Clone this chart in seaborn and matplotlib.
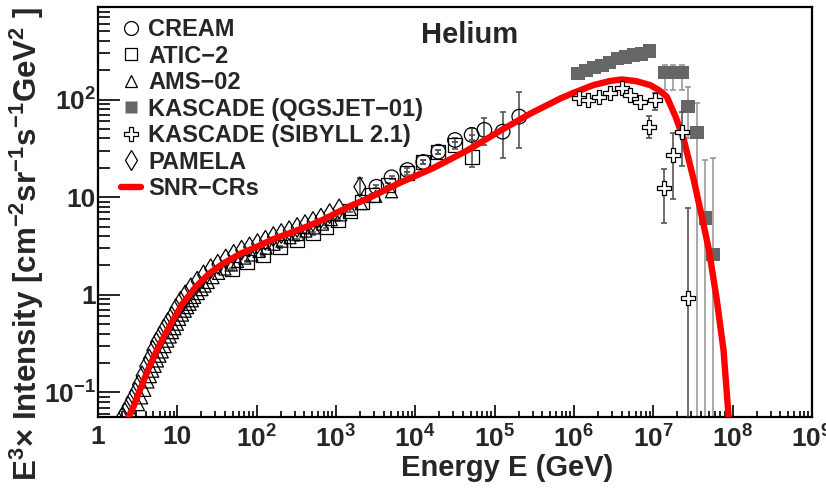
import numpy as np
import pandas as pd
import seaborn as sns
import matplotlib
matplotlib.use('Agg')
import matplotlib.pyplot as plt
from matplotlib.lines import Line2D
from matplotlib.ticker import FixedLocator, FixedFormatter, LogLocator, NullFormatter

# values: log10(E / GeV) and E^3 x intensity
snr_logE = [0.38, 0.45, 0.51, 0.63, 0.76, 0.90, 1.06, 1.23, 1.40, 1.58, 1.80, 2.00,
            2.20, 2.42, 2.63, 2.84, 3.16, 3.39, 3.80, 4.23, 4.65, 5.07, 5.45, 5.83,
            6.00, 6.245, 6.45, 6.60, 6.78, 6.96, 7.07, 7.17, 7.28, 7.38, 7.51, 7.63,
            7.70, 7.80, 7.885, 7.95]
snr_flux = [0.055, 0.072, 0.097, 0.17, 0.29, 0.47, 0.80, 1.2, 1.65, 2.1, 2.65, 3.1,
            3.7, 4.3, 5.0, 5.9, 8.0, 9.6, 14, 20, 30, 48, 72, 103,
            118, 141, 155, 161, 155, 141, 125, 107, 67, 40, 15, 5.4,
            2.9, 0.89, 0.27, 0.055]

cream_logE = [3.51, 3.70, 3.90, 4.10, 4.29, 4.50, 4.71, 4.87, 5.10, 5.31]
cream_flux = [12.8, 16, 19, 23, 29.3, 38.6, 43.5, 49, 47, 67]
cream_lo = [12.3, 15.3, 18.2, 22, 28, 36.5, 39, 34, 25, 32]
cream_hi = [13.3, 16.7, 19.8, 24, 30.6, 40.6, 51, 64.5, 75, 120]

atic_logE = [1.69, 1.875, 2.085, 2.295, 2.505, 2.715, 2.88, 3.03, 3.18, 3.33, 3.45,
             3.66, 3.89, 4.10, 4.29, 4.50, 4.71]
atic_flux = [1.85, 2.19, 2.57, 3.1, 3.66, 4.27, 5.0, 5.85, 7.3, 9.0, 10.5,
             13.4, 17.6, 23, 29, 34, 26]
atic_lo = [1.8, 2.15, 2.5, 3.0, 3.55, 4.15, 4.85, 5.7, 7.1, 8.7, 10.1,
           12.9, 16.9, 22, 27.5, 31, 20.5]
atic_hi = [1.9, 2.23, 2.64, 3.2, 3.77, 4.4, 5.15, 6.0, 7.5, 9.3, 10.9,
           13.9, 18.3, 24, 30.5, 37, 43.5]

ams_logE = [0.45, 0.51, 0.55, 0.59, 0.63, 0.66, 0.69, 0.72, 0.75, 0.78, 0.81, 0.845,
            0.88, 0.91, 0.94, 0.97, 1.00, 1.03, 1.065, 1.10, 1.13, 1.16, 1.19, 1.22,
            1.265, 1.31, 1.35, 1.39, 1.45, 1.52, 1.60, 1.68, 1.76, 1.85, 1.94, 2.03,
            2.12, 2.22, 2.32, 2.42, 2.52, 2.62, 2.72, 2.83, 2.94, 3.06, 3.18, 3.32,
            3.50, 3.70]
ams_flux = [0.055, 0.075, 0.088, 0.105, 0.128, 0.145, 0.165, 0.185, 0.21, 0.235, 0.26, 0.295,
            0.335, 0.37, 0.41, 0.45, 0.50, 0.56, 0.62, 0.68, 0.74, 0.80, 0.87, 0.94,
            1.03, 1.13, 1.23, 1.34, 1.5, 1.66, 1.84, 2.02, 2.2, 2.38, 2.56, 2.78,
            3.0, 3.3, 3.55, 3.85, 4.15, 4.5, 4.85, 5.3, 5.9, 6.6, 7.5, 8.6,
            10.2, 11.4]

pamela_logE = [0.30, 0.34, 0.38, 0.425, 0.47, 0.51, 0.555, 0.60, 0.645, 0.69, 0.735,
               0.78, 0.83, 0.88, 0.93, 0.98, 1.04, 1.10, 1.17, 1.25, 1.33, 1.42, 1.51,
               1.61, 1.71, 1.81, 1.91, 2.01, 2.11, 2.21, 2.31, 2.41, 2.51, 2.61, 2.71,
               2.81, 2.92, 3.04, 3.30]
pamela_flux = [0.055, 0.062, 0.072, 0.085, 0.10, 0.12, 0.148, 0.185, 0.22, 0.27, 0.325,
               0.375, 0.445, 0.52, 0.60, 0.72, 0.86, 1.0, 1.18, 1.38, 1.6, 1.85, 2.06,
               2.33, 2.6, 2.87, 3.1, 3.35, 3.62, 3.95, 4.25, 4.55, 4.9, 5.25, 5.65,
               6.1, 6.8, 7.6, 12.8]
pamela_lo = [10.6]
pamela_hi = [15.6]

qgs_logE = [6.05, 6.15, 6.25, 6.35, 6.45, 6.55, 6.65, 6.75, 6.85, 6.95,
            7.15, 7.25, 7.36, 7.44, 7.55, 7.655, 7.75]
qgs_flux = [185, 200, 213, 225, 240, 265, 275, 285, 295, 316,
            190, 190, 190, 85, 46, 6.1, 2.6]
qgs_lo = [185, 200, 213, 225, 240, 265, 275, 285, 295, 316,
          126, 126, 126, 40, 1e-3, 1e-3, 1e-3]
qgs_hi = [185, 200, 213, 225, 240, 265, 275, 285, 295, 316,
          229, 229, 229, 134, 92, 24, 25]

sib_logE = [6.06, 6.18, 6.31, 6.46, 6.60, 6.71, 6.83, 6.94, 7.02, 7.14, 7.245, 7.36, 7.44]
sib_flux = [103, 99, 107, 116, 131, 112, 95, 53, 99, 12.3, 27, 47, 0.92]
sib_lo = [103, 99, 107, 116, 131, 112, 95, 40, 78, 5.5, 9.5, 21, 1e-3]
sib_hi = [103, 99, 107, 116, 131, 112, 95, 67.5, 116, 19.4, 45, 75, 7.7]

legend_labels = ['CREAM', 'ATIC\u22122', 'AMS\u221202', 'KASCADE (QGSJET\u221201)',
                 'KASCADE (SIBYLL 2.1)', 'PAMELA', 'SNR\u2212CRs']


def frame(logE, flux):
    return pd.DataFrame({'E': np.power(10.0, logE), 'flux': flux})


def bars(ax, logE, flux, lo, hi, color, z):
    ax.errorbar(np.power(10.0, logE), flux,
                yerr=[np.subtract(flux, lo), np.subtract(hi, flux)],
                fmt='none', ecolor=color, elinewidth=1.2, capsize=2.5,
                capthick=1.2, zorder=z)


sns.set_theme(style='ticks')
plt.rcParams['font.family'] = ['Liberation Sans', 'DejaVu Sans']
plt.rcParams['font.weight'] = 'bold'
plt.rcParams['mathtext.fontset'] = 'custom'
plt.rcParams['mathtext.rm'] = 'Liberation Sans:bold'
plt.rcParams['mathtext.it'] = 'Liberation Sans:bold'
plt.rcParams['mathtext.bf'] = 'Liberation Sans:bold'
plt.rcParams['mathtext.default'] = 'rm'

fig = plt.figure(figsize=(8.26, 4.88), dpi=100)
ax = fig.add_axes([98 / 826, 1 - 417 / 488, 714 / 826, 410 / 488])
ax.set_xscale('log')
ax.set_yscale('log')

bars(ax, cream_logE, cream_flux, cream_lo, cream_hi, '#555555', 2)
bars(ax, atic_logE, atic_flux, atic_lo, atic_hi, '#555555', 2)
bars(ax, pamela_logE[-1:], pamela_flux[-1:], pamela_lo, pamela_hi, '#555555', 2)
bars(ax, qgs_logE, qgs_flux, qgs_lo, qgs_hi, '#9a9a9a', 2)
bars(ax, sib_logE, sib_flux, sib_lo, sib_hi, '#555555', 5)

open_kw = dict(facecolor='none', edgecolor='black', linewidth=0.9)
sns.scatterplot(data=frame(ams_logE, ams_flux), x='E', y='flux', ax=ax, marker='^',
                s=75, zorder=3, **open_kw)
sns.scatterplot(data=frame(pamela_logE, pamela_flux), x='E', y='flux', ax=ax, marker='d',
                s=100, zorder=3, **open_kw)
sns.scatterplot(data=frame(atic_logE, atic_flux), x='E', y='flux', ax=ax, marker='s',
                s=100, zorder=3, **open_kw)
sns.scatterplot(data=frame(cream_logE, cream_flux), x='E', y='flux', ax=ax, marker='o',
                s=110, zorder=3, **open_kw)
sns.scatterplot(data=frame(qgs_logE, qgs_flux), x='E', y='flux', ax=ax, marker='s',
                s=95, color='#666666', edgecolor='none', zorder=3)

sns.lineplot(data=frame(snr_logE, snr_flux), x='E', y='flux', ax=ax, color='red',
             lw=4.6, sort=False, estimator=None, zorder=4)

sns.scatterplot(data=frame(sib_logE, sib_flux), x='E', y='flux', ax=ax, marker='P',
                s=115, facecolor='white', edgecolor='black', linewidth=0.9, zorder=6)

ax.set_xlim(1, 1e9)
ax.set_ylim(0.056, 890)

ax.xaxis.set_major_locator(FixedLocator([10.0 ** k for k in range(10)]))
ax.xaxis.set_major_formatter(FixedFormatter(
    ['1', '10'] + ['$10^{%d}$' % k for k in range(2, 10)]))
ax.xaxis.set_minor_locator(LogLocator(base=10, subs=np.arange(2, 10), numticks=20))
ax.xaxis.set_minor_formatter(NullFormatter())
ax.yaxis.set_major_locator(FixedLocator([0.1, 1, 10, 100]))
ax.yaxis.set_major_formatter(FixedFormatter(['$10^{-1}$', '1', '10', '$10^{2}$']))
ax.yaxis.set_minor_locator(LogLocator(base=10, subs=np.arange(2, 10), numticks=20))
ax.yaxis.set_minor_formatter(NullFormatter())

ax.tick_params(which='both', direction='in', top=False, right=False, width=1.2,
               color='black', labelsize=19)
ax.tick_params(axis='x', which='major', length=9, pad=6)
ax.tick_params(axis='x', which='minor', length=4.5)
ax.tick_params(axis='y', which='major', length=16, pad=1.5)
ax.tick_params(axis='y', which='minor', length=8.5)
for sp in ax.spines.values():
    sp.set_linewidth(1.6)
    sp.set_color('black')
ax.grid(False)

ax.set_xlabel('Energy E (GeV)', fontsize=21, fontweight='bold')
ax.xaxis.set_label_coords((507 - 98) / 714, -(468 - 417) / 410)
ax.xaxis.label.set_va('center')
ax.set_ylabel('E$^{3}$\u00d7 Intensity [cm$^{-2}$sr$^{-1}$s$^{-1}$GeV$^{2}$ ]',
              fontsize=22.5, fontweight='bold')
ax.yaxis.set_label_coords(-(98 - 27) / 714, (417 - 244) / 410)
ax.yaxis.label.set_va('center')

ax.text((470 - 98) / 714, (417 - 35) / 410, 'Helium', transform=ax.transAxes,
        ha='center', va='center', fontsize=21, fontweight='bold')

handles = [
    Line2D([], [], marker='o', ls='none', mfc='none', mec='black', mew=0.9, ms=10),
    Line2D([], [], marker='s', ls='none', mfc='none', mec='black', mew=0.9, ms=9),
    Line2D([], [], marker='^', ls='none', mfc='none', mec='black', mew=0.9, ms=9),
    Line2D([], [], marker='s', ls='none', mfc='#666666', mec='none', ms=9),
    Line2D([], [], marker='P', ls='none', mfc='white', mec='black', mew=0.9, ms=10),
    Line2D([], [], marker='d', ls='none', mfc='none', mec='black', mew=0.9, ms=10),
    Line2D([], [], color='red', lw=4.6),
]
leg = ax.legend(handles, legend_labels, loc='upper left',
                bbox_to_anchor=((121 - 98) / 714, (417 - 18) / 410), frameon=False,
                prop={'size': 17, 'weight': 'bold'}, handlelength=0.85,
                handletextpad=0.3, labelspacing=0.15, borderpad=0, borderaxespad=0)

fig.savefig('out.png', dpi=100)
